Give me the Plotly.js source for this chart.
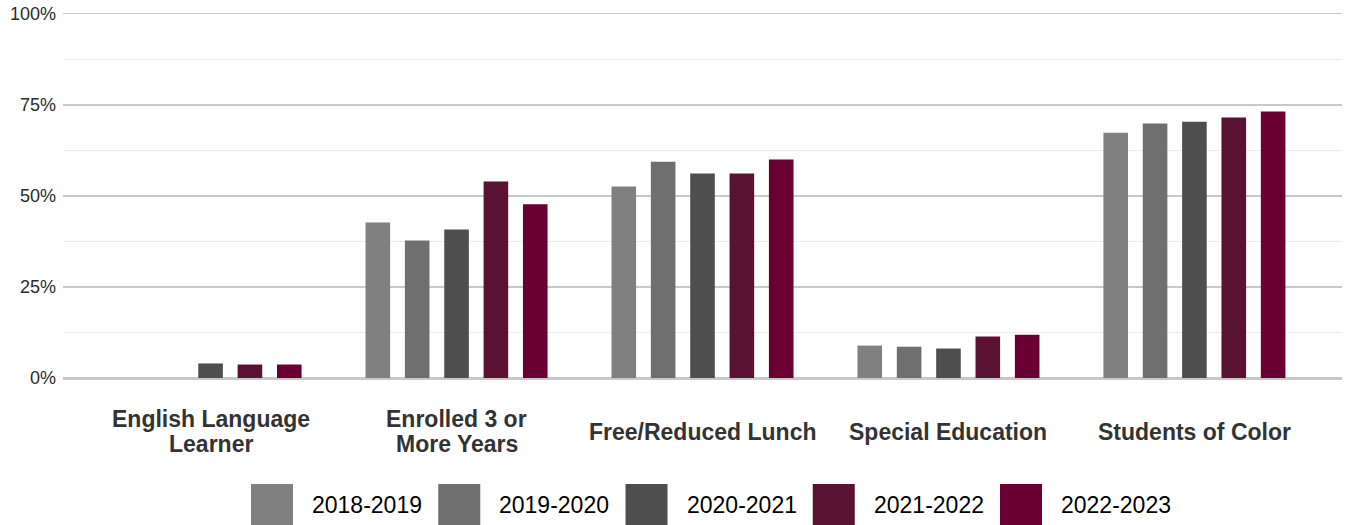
<!DOCTYPE html>
<html>
<head>
<meta charset="utf-8">
<script src="https://cdn.plot.ly/plotly-3.0.1.min.js"></script>
<style>
html,body{margin:0;padding:0;background:#fff;}
#chart{width:1347px;height:525px;}
</style>
</head>
<body>
<div id="chart"></div>
<script>
// ---- data ----
var categories = ["English Language<br>Learner", "Enrolled 3 or<br>More Years", "Free/Reduced Lunch", "Special Education", "Students of Color"];
var seriesNames = ["2018-2019", "2019-2020", "2020-2021", "2021-2022", "2022-2023"];
var seriesColors = ["#808080", "#6f6f6f", "#4e4e4e", "#5a1232", "#6a0032"];
var v2018 = [null, 42.7, 52.6, 8.9, 67.4];
var v2019 = [null, 37.8, 59.4, 8.6, 69.9];
var v2020 = [4.0, 40.8, 56.2, 8.1, 70.4];
var v2021 = [3.7, 54.0, 56.2, 11.4, 71.6];
var v2022 = [3.7, 47.7, 60.0, 11.9, 73.2];
var seriesValues = [v2018, v2019, v2020, v2021, v2022];
var yTickVals = [0, 25, 50, 75, 100];
var yTickText = ["0%", "25%", "50%", "75%", "100%"];

// ---- layout geometry ----
var W = 1347, H = 525;
var M = {l: 63, r: 5, t: 14, b: 147};
var plotW = W - M.l - M.r, plotH = H - M.t - M.b;
function px2paperX(px){ return (px - M.l) / plotW; }
function px2paperY(py){ return (H - M.b - py) / plotH; }

var traces = seriesNames.map(function(name, i){
  return {
    type: "bar",
    name: name,
    x: categories,
    y: seriesValues[i],
    marker: {color: seriesColors[i]},
    hoverinfo: "x+y+name",
    showlegend: false
  };
});

var annotations = [];
// category labels (multi-line, vertically centered)
var lineGap = 25.5;
categories.forEach(function(cat){
  var lines = cat.split("<br>");
  var n = lines.length;
  lines.forEach(function(line, i){
    annotations.push({
      xref: "x", yref: "paper", x: cat, y: px2paperY(431.5),
      yshift: -((i - (n - 1) / 2) * lineGap),
      text: line, showarrow: false, xanchor: "center", yanchor: "middle",
      font: {family: "Liberation Sans, Arial, sans-serif", size: 23, color: "#333333", weight: "bold"}
    });
  });
});

// custom legend
var shapes = [];
var legStart = 251, legStep = 187.25, sqW = 42, sqTop = 484, sqBot = 527, textOff = 59;
seriesNames.forEach(function(name, i){
  var x0 = legStart + i * legStep;
  shapes.push({
    type: "rect", xref: "paper", yref: "paper",
    x0: px2paperX(x0), x1: px2paperX(x0 + sqW),
    y0: px2paperY(sqBot), y1: px2paperY(sqTop),
    fillcolor: seriesColors[i], line: {width: 0}, layer: "above"
  });
  annotations.push({
    xref: "paper", yref: "paper", x: px2paperX(x0 + textOff), y: px2paperY(505),
    text: name, showarrow: false, xanchor: "left", yanchor: "middle",
    font: {family: "Liberation Sans, Arial, sans-serif", size: 23, color: "#000000"}
  });
});

var layout = {
  width: W, height: H,
  margin: M,
  paper_bgcolor: "#ffffff",
  plot_bgcolor: "#ffffff",
  barmode: "group",
  bargap: 0.2,
  bargroupgap: 0.375,
  showlegend: false,
  xaxis: {
    type: "category",
    range: [-0.6, 4.6],
    showticklabels: false,
    showgrid: false,
    zeroline: false,
    showline: true,
    mirror: true,
    linecolor: "#c8c8c8",
    linewidth: 1.5,
    ticks: "",
    fixedrange: true
  },
  yaxis: {
    range: [0, 100],
    tickvals: yTickVals,
    ticktext: yTickText,
    showgrid: true,
    gridcolor: "#c8c8c8",
    gridwidth: 1.5,
    zeroline: true,
    zerolinecolor: "#c8c8c8",
    zerolinewidth: 1.5,
    ticks: "",
    ticklabelstandoff: 6,
    tickfont: {family: "Liberation Sans, Arial, sans-serif", size: 18, color: "#2b2b2b"},
    minor: {dtick: 12.5, tick0: 0, showgrid: true, gridcolor: "#ebebeb", gridwidth: 1},
    fixedrange: true
  },
  annotations: annotations,
  shapes: shapes
};

Plotly.newPlot("chart", traces, layout, {displayModeBar: false, staticPlot: true});
</script>
</body>
</html>
